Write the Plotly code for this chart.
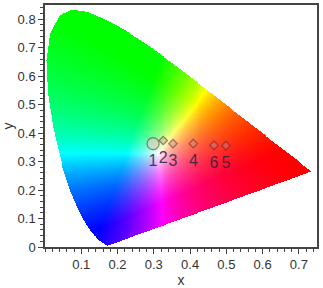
import numpy as np
import plotly.graph_objects as go

# CIE 1931 2-degree spectral locus (chromaticity x, y), 380-700 nm every 5 nm
locus_x = [0.1741, 0.1740, 0.1738, 0.1736, 0.1733, 0.1730, 0.1726, 0.1721, 0.1714, 0.1703,
           0.1689, 0.1669, 0.1644, 0.1611, 0.1566, 0.1510, 0.1440, 0.1355, 0.1241, 0.1096,
           0.0913, 0.0687, 0.0454, 0.0235, 0.0082, 0.0039, 0.0139, 0.0389, 0.0743, 0.1142,
           0.1547, 0.1929, 0.2296, 0.2658, 0.3016, 0.3373, 0.3731, 0.4087, 0.4441, 0.4788,
           0.5125, 0.5448, 0.5752, 0.6029, 0.6270, 0.6482, 0.6658, 0.6801, 0.6915, 0.7006,
           0.7079, 0.7140, 0.7190, 0.7230, 0.7260, 0.7283, 0.7300, 0.7311, 0.7320, 0.7327,
           0.7334, 0.7340, 0.7344, 0.7346, 0.7347]
locus_y = [0.0050, 0.0050, 0.0049, 0.0049, 0.0048, 0.0048, 0.0048, 0.0048, 0.0051, 0.0058,
           0.0069, 0.0086, 0.0109, 0.0138, 0.0177, 0.0227, 0.0297, 0.0399, 0.0578, 0.0868,
           0.1327, 0.2007, 0.2950, 0.4127, 0.5384, 0.6548, 0.7502, 0.8120, 0.8338, 0.8262,
           0.8059, 0.7816, 0.7543, 0.7243, 0.6923, 0.6589, 0.6245, 0.5896, 0.5547, 0.5202,
           0.4866, 0.4544, 0.4242, 0.3965, 0.3725, 0.3514, 0.3340, 0.3197, 0.3083, 0.2993,
           0.2920, 0.2859, 0.2809, 0.2770, 0.2740, 0.2717, 0.2700, 0.2689, 0.2680, 0.2673,
           0.2666, 0.2660, 0.2656, 0.2654, 0.2653]

# Measured points
pt_labels = ["1", "2", "3", "4", "5", "6"]
pt_x = [0.298, 0.326, 0.353, 0.409, 0.499, 0.466]
pt_y = [0.363, 0.374, 0.363, 0.363, 0.356, 0.357]

X_RANGE = [0, 0.75]
Y_RANGE = [0, 0.85]
NX, NY = 280, 242

dx = (X_RANGE[1] - X_RANGE[0]) / NX
dy = (Y_RANGE[1] - Y_RANGE[0]) / NY
xs = X_RANGE[0] + dx * (np.arange(NX) + 0.5)
ys = Y_RANGE[0] + dy * (np.arange(NY) + 0.5)
GX, GY = np.meshgrid(xs, ys)

# point in polygon (ray casting)
px = np.array(locus_x + [locus_x[0]])
py = np.array(locus_y + [locus_y[0]])
inside = np.zeros(GX.shape, dtype=bool)
for i in range(len(px) - 1):
    x1, y1, x2, y2 = px[i], py[i], px[i + 1], py[i + 1]
    cond = (y1 > GY) != (y2 > GY)
    with np.errstate(divide="ignore", invalid="ignore"):
        xint = x1 + (GY - y1) * (x2 - x1) / (y2 - y1 + 1e-12)
    inside ^= cond & (GX < xint)

Yv = np.ones_like(GX)
Xv = GX / np.maximum(GY, 1e-6)
Zv = (1 - GX - GY) / np.maximum(GY, 1e-6)
M = np.array([[3.2406, -1.5372, -0.4986],
              [-0.9689, 1.8758, 0.0415],
              [0.0557, -0.2040, 1.0570]])
R = M[0, 0] * Xv + M[0, 1] * Yv + M[0, 2] * Zv
G = M[1, 0] * Xv + M[1, 1] * Yv + M[1, 2] * Zv
B = M[2, 0] * Xv + M[2, 1] * Yv + M[2, 2] * Zv
rgb = np.stack([R, G, B], axis=-1)
rgb = np.clip(rgb, 0, None)
mx = np.max(rgb, axis=-1, keepdims=True)
rgb = rgb / np.maximum(mx, 1e-9)
img = (np.clip(rgb, 0, 1) * 255).astype(np.uint8)
img[~inside] = 255

fig = go.Figure()
fig.add_trace(go.Image(z=img, x0=xs[0], dx=dx, y0=ys[0], dy=dy, hoverinfo="skip"))

sizes = [12 if l == "1" else 6.5 for l in pt_labels]
symbols = ["circle" if l == "1" else "diamond" for l in pt_labels]
fills = ["rgba(215,205,200,0.85)" if l == "1" else "rgba(180,150,150,0.55)" for l in pt_labels]
fig.add_trace(go.Scatter(
    x=pt_x, y=pt_y, mode="markers",
    marker=dict(size=sizes, symbol=symbols, color=fills,
                line=dict(color="rgba(110,40,40,0.85)", width=1.2)),
    showlegend=False, hoverinfo="skip"))
fig.add_trace(go.Scatter(
    x=pt_x, y=[v - 0.066 for v in pt_y], mode="text", text=pt_labels,
    textfont=dict(family="Liberation Sans, Arial", size=16, color="rgba(40,30,70,0.85)"),
    showlegend=False, hoverinfo="skip"))

axis_common = dict(
    showline=True, linecolor="#444", linewidth=1.5, mirror=True,
    ticks="outside", ticklen=5, tickcolor="#444", tickwidth=1,
    showgrid=False, zeroline=False,
    tickfont=dict(family="Liberation Sans, Arial", size=13, color="#333"),
    minor=dict(ticks="outside", ticklen=3, tickcolor="#444", dtick=0.02, showgrid=False),
)
fig.update_layout(
    width=323, height=288,
    margin=dict(l=40, r=4, t=5, b=41),
    paper_bgcolor="white", plot_bgcolor="white",
    showlegend=False,
    xaxis=dict(range=X_RANGE, dtick=0.1, tick0=0, constrain="range", automargin=False,
               title=dict(text="x", font=dict(family="Liberation Sans, Arial", size=14, color="#333"), standoff=8),
               **axis_common),
    yaxis=dict(range=Y_RANGE, dtick=0.1, tick0=0, scaleanchor=False,
               title=dict(text="y", font=dict(family="Liberation Sans, Arial", size=14, color="#333"), standoff=4),
               **axis_common),
)
fig.update_xaxes(tickvals=[0.1, 0.2, 0.3, 0.4, 0.5, 0.6, 0.7], ticktext=["0.1", "0.2", "0.3", "0.4", "0.5", "0.6", "0.7"])
fig.update_yaxes(tickvals=[0, 0.1, 0.2, 0.3, 0.4, 0.5, 0.6, 0.7, 0.8], ticktext=["0", "0.1", "0.2", "0.3", "0.4", "0.5", "0.6", "0.7", "0.8"])
fig.write_html("out.html")
